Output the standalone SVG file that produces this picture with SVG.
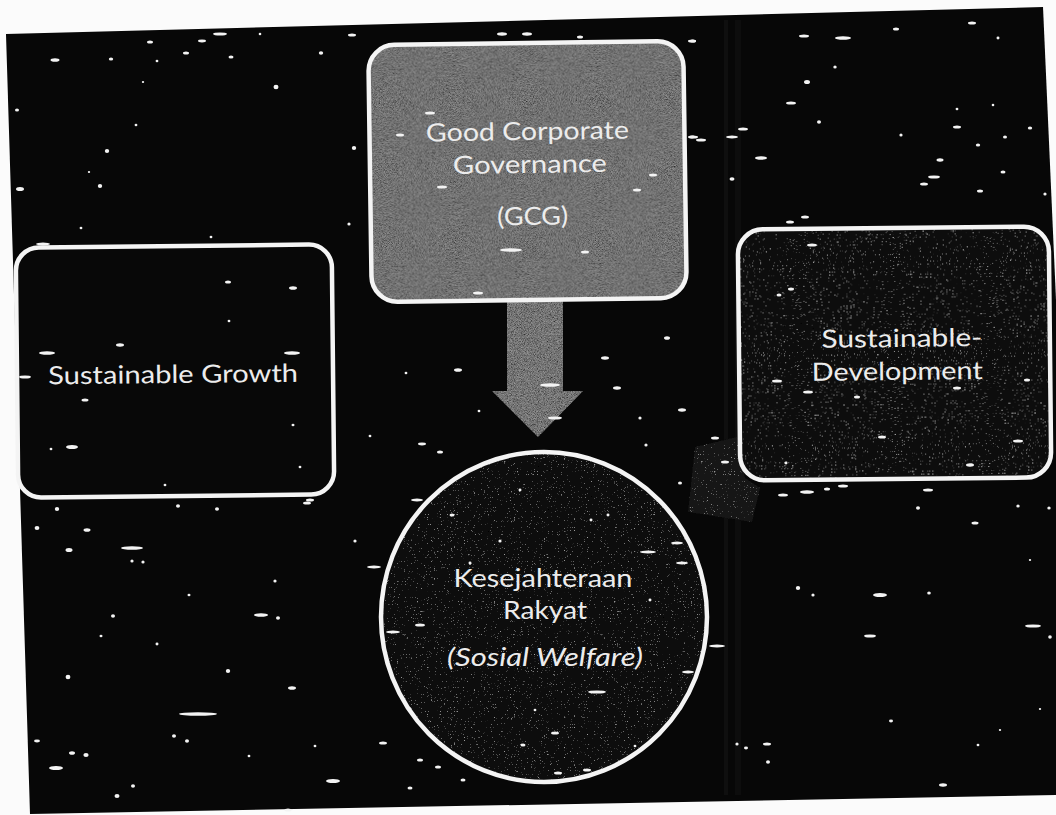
<svg xmlns="http://www.w3.org/2000/svg" width="1056" height="815" viewBox="0 0 1056 815">
  <defs>
    <style>
      .lbl { font-family: Lato, "Open Sans", "Liberation Sans", sans-serif; font-size: 25px; fill: #ececec; text-anchor: middle; }
      .it { font-style: italic; }
      .frame { fill: none; stroke: #f4f4f4; stroke-width: 4.5; }
      .sp { fill: #f3f3f3; }
      .band { fill: #1b1b1b; }
    </style>
    <!-- mid-grey photocopy grain: grey noise laid over the fill -->
    <filter id="grain" x="0" y="0" width="100%" height="100%">
      <feTurbulence type="fractalNoise" baseFrequency="1.3" numOctaves="1" seed="7" result="n"/>
      <feColorMatrix in="n" type="matrix" values="1.4 0 0 0 -0.28  1.4 0 0 0 -0.28  1.4 0 0 0 -0.28  0 0 0 0 0.35" result="g"/>
      <feComposite in="g" in2="SourceGraphic" operator="in" result="gn"/>
      <feMerge><feMergeNode in="SourceGraphic"/><feMergeNode in="gn"/></feMerge>
    </filter>
    <!-- sparse dim flecks for the dark shapes -->
    <filter id="grainLight" x="0" y="0" width="100%" height="100%">
      <feTurbulence type="fractalNoise" baseFrequency="1.3" numOctaves="1" seed="11" result="n"/>
      <feColorMatrix in="n" type="matrix" values="0 0 0 0 0.75  0 0 0 0 0.75  0 0 0 0 0.75  3 0 0 0 -2.02" result="w"/>
      <feComposite in="w" in2="SourceGraphic" operator="in" result="wn"/>
      <feMerge><feMergeNode in="SourceGraphic"/><feMergeNode in="wn"/></feMerge>
    </filter>
  </defs>

  <!-- paper -->
  <rect x="0" y="0" width="1056" height="815" fill="#fbfbfb"/>
  <!-- dark slide area, slightly skewed -->
  <polygon points="6,34 1043,7 1056,300 1056,795 30,814" fill="#070707"/>
  <rect class="band" x="724" y="20" width="4" height="775" opacity="0.45"/>
  <rect class="band" x="735" y="20" width="6" height="775" opacity="0.35"/>

  <!-- connectors -->
  <g id="connectors">
    <polygon id="arrow-gcg" points="507,300 563,300 563,391 583,391 538,437 492,391 507,391" fill="#3c3c3c" filter="url(#grain)"/>
    <polygon id="arrow-sd" points="695,447 737,437 745,478 760,488 752,522 688,512" fill="#151515" filter="url(#grainLight)"/>
  </g>

  <g id="node-gcg" transform="rotate(-0.8 527 171)">
    <rect x="370" y="43" width="315" height="257" rx="26" fill="#363636" filter="url(#grain)"/>
    <rect class="frame" x="370" y="43" width="315" height="257" rx="26"/>
    <text class="lbl" x="528" y="140" textLength="203" lengthAdjust="spacingAndGlyphs">Good Corporate</text>
    <text class="lbl" x="530" y="173" textLength="154" lengthAdjust="spacingAndGlyphs">Governance</text>
    <text class="lbl" x="532" y="225" textLength="71" lengthAdjust="spacingAndGlyphs">(GCG)</text>
  </g>

  <g id="node-growth" transform="rotate(-0.6 175 371)">
    <rect x="17" y="246" width="316" height="250" rx="23" fill="#080808"/>
    <rect class="frame" x="17" y="246" width="316" height="250" rx="23"/>
    <text class="lbl" x="173" y="383" textLength="250" lengthAdjust="spacingAndGlyphs">Sustainable Growth</text>
  </g>

  <g id="node-development" transform="rotate(-0.6 894 353)">
    <rect x="739" y="228" width="311" height="251" rx="25" fill="#0f0f0f" filter="url(#grainLight)"/>
    <rect class="frame" x="739" y="228" width="311" height="251" rx="25"/>
    <text class="lbl" x="902" y="347" textLength="161" lengthAdjust="spacingAndGlyphs">Sustainable-</text>
    <text class="lbl" x="897" y="380" textLength="171" lengthAdjust="spacingAndGlyphs">Development</text>
  </g>

  <g id="node-welfare">
    <ellipse cx="544" cy="617" rx="163" ry="165" fill="#101010" filter="url(#grainLight)"/>
    <ellipse class="frame" cx="544" cy="617" rx="163" ry="165"/>
    <text class="lbl" x="543" y="587" textLength="179" lengthAdjust="spacingAndGlyphs">Kesejahteraan</text>
    <text class="lbl" x="545" y="619" textLength="84" lengthAdjust="spacingAndGlyphs">Rakyat</text>
    <text class="lbl it" x="545" y="666" textLength="196" lengthAdjust="spacingAndGlyphs">(Sosial Welfare)</text>
  </g>

  <!-- scanner specks -->
  <g id="specks">
    <ellipse class="sp" cx="220" cy="34" rx="7" ry="1.6"/>
    <ellipse class="sp" cx="352" cy="35" rx="4" ry="1.5"/>
    <ellipse class="sp" cx="150" cy="42" rx="3" ry="1.6"/>
    <ellipse class="sp" cx="202" cy="41" rx="4" ry="1.4"/>
    <ellipse class="sp" cx="186" cy="53" rx="3" ry="1.5"/>
    <ellipse class="sp" cx="231" cy="57" rx="2.5" ry="1.5"/>
    <ellipse class="sp" cx="55" cy="60" rx="4.5" ry="1.8"/>
    <ellipse class="sp" cx="111" cy="59" rx="2.2" ry="1.6"/>
    <ellipse class="sp" cx="321" cy="53" rx="2.2" ry="1.8"/>
    <ellipse class="sp" cx="157" cy="61" rx="1.4" ry="1.2"/>
    <ellipse class="sp" cx="276" cy="87" rx="2.5" ry="2.2"/>
    <ellipse class="sp" cx="17" cy="110" rx="2" ry="1.6"/>
    <ellipse class="sp" cx="136" cy="125" rx="1.4" ry="1.2"/>
    <ellipse class="sp" cx="107" cy="151" rx="2.2" ry="2"/>
    <ellipse class="sp" cx="354" cy="148" rx="2.2" ry="2"/>
    <ellipse class="sp" cx="100" cy="186" rx="2.2" ry="2"/>
    <ellipse class="sp" cx="20" cy="189" rx="4" ry="2"/>
    <ellipse class="sp" cx="81" cy="228" rx="1.4" ry="1.3"/>
    <ellipse class="sp" cx="349" cy="224" rx="1.6" ry="1.5"/>
    <ellipse class="sp" cx="211" cy="237" rx="1.4" ry="1.3"/>
    <ellipse class="sp" cx="43" cy="244" rx="7" ry="1.5"/>
    <ellipse class="sp" cx="143" cy="82" rx="1.2" ry="1.1"/>
    <ellipse class="sp" cx="89" cy="172" rx="1.2" ry="1.1"/>
    <ellipse class="sp" cx="260" cy="34" rx="1.3" ry="1.2"/>

    <ellipse class="sp" cx="692" cy="41" rx="4" ry="1.5"/>
    <ellipse class="sp" cx="804" cy="36" rx="5" ry="1.5"/>
    <ellipse class="sp" cx="843" cy="38" rx="8" ry="1.7"/>
    <ellipse class="sp" cx="896" cy="29" rx="3" ry="1.5"/>
    <ellipse class="sp" cx="972" cy="23" rx="4" ry="1.5"/>
    <ellipse class="sp" cx="998" cy="38" rx="1.5" ry="1.4"/>
    <ellipse class="sp" cx="835" cy="67" rx="1.7" ry="1.5"/>
    <ellipse class="sp" cx="807" cy="82" rx="3" ry="2"/>
    <ellipse class="sp" cx="791" cy="103" rx="5" ry="1.6"/>
    <ellipse class="sp" cx="743" cy="129" rx="5" ry="1.6"/>
    <ellipse class="sp" cx="732" cy="137" rx="6" ry="1.5"/>
    <ellipse class="sp" cx="701" cy="140" rx="5" ry="1.5"/>
    <ellipse class="sp" cx="692" cy="137" rx="3" ry="1.4"/>
    <ellipse class="sp" cx="761" cy="158" rx="6" ry="1.7"/>
    <ellipse class="sp" cx="732" cy="179" rx="2.5" ry="1.8"/>
    <ellipse class="sp" cx="957" cy="127" rx="4" ry="1.5"/>
    <ellipse class="sp" cx="940" cy="160" rx="3.5" ry="1.7"/>
    <ellipse class="sp" cx="934" cy="177" rx="6" ry="1.6"/>
    <ellipse class="sp" cx="924" cy="184" rx="4" ry="1.6"/>
    <ellipse class="sp" cx="978" cy="145" rx="2.2" ry="1.5"/>
    <ellipse class="sp" cx="1003" cy="172" rx="2.5" ry="1.6"/>
    <ellipse class="sp" cx="980" cy="191" rx="3" ry="1.5"/>
    <ellipse class="sp" cx="1005" cy="137" rx="2" ry="1.5"/>
    <ellipse class="sp" cx="1030" cy="128" rx="2.2" ry="1.5"/>
    <ellipse class="sp" cx="805" cy="217" rx="4" ry="1.6"/>
    <ellipse class="sp" cx="790" cy="222" rx="4" ry="1.6"/>
    <ellipse class="sp" cx="819" cy="122" rx="2" ry="1.8"/>
    <ellipse class="sp" cx="901" cy="135" rx="1.6" ry="1.5"/>
    <ellipse class="sp" cx="957" cy="109" rx="1.4" ry="1.3"/>
    <ellipse class="sp" cx="993" cy="105" rx="1.3" ry="1.2"/>
    <ellipse class="sp" cx="1045" cy="194" rx="1.6" ry="1.5"/>

    <ellipse class="sp" cx="502" cy="34" rx="5" ry="1.7"/>
    <ellipse class="sp" cx="527" cy="34" rx="5" ry="1.7"/>
    <ellipse class="sp" cx="580" cy="37" rx="3" ry="1.5"/>
    <ellipse class="sp" cx="693" cy="41" rx="3" ry="1.5"/>
    <ellipse class="sp" cx="430" cy="113" rx="5" ry="1.5"/>
    <ellipse class="sp" cx="400" cy="135" rx="4" ry="1.5"/>
    <ellipse class="sp" cx="442" cy="187" rx="5" ry="1.5"/>
    <ellipse class="sp" cx="511" cy="250" rx="11" ry="1.8"/>
    <ellipse class="sp" cx="585" cy="252" rx="4" ry="1.5"/>
    <ellipse class="sp" cx="637" cy="190" rx="4" ry="1.5"/>
    <ellipse class="sp" cx="653" cy="175" rx="4" ry="1.5"/>
    <ellipse class="sp" cx="478" cy="293" rx="5" ry="1.5"/>
    <ellipse class="sp" cx="693" cy="137" rx="5" ry="1.5"/>
    <ellipse class="sp" cx="458" cy="370" rx="4" ry="1.8"/>
    <ellipse class="sp" cx="667" cy="338" rx="3" ry="1.8"/>
    <ellipse class="sp" cx="605" cy="358" rx="4" ry="1.7"/>
    <ellipse class="sp" cx="617" cy="388" rx="4" ry="1.7"/>
    <ellipse class="sp" cx="682" cy="410" rx="4" ry="1.7"/>
    <ellipse class="sp" cx="550" cy="385" rx="10" ry="1.7"/>
    <ellipse class="sp" cx="555" cy="418" rx="7" ry="1.6"/>
    <ellipse class="sp" cx="406" cy="373" rx="1.4" ry="1.3"/>
    <ellipse class="sp" cx="479" cy="411" rx="1.4" ry="1.3"/>
    <ellipse class="sp" cx="640" cy="418" rx="1.6" ry="1.5"/>
    <ellipse class="sp" cx="646" cy="445" rx="1.6" ry="1.5"/>
    <ellipse class="sp" cx="370" cy="436" rx="1.4" ry="1.3"/>

    <ellipse class="sp" cx="228" cy="282" rx="3" ry="1.6"/>
    <ellipse class="sp" cx="293" cy="288" rx="4" ry="1.8"/>
    <ellipse class="sp" cx="120" cy="345" rx="4" ry="1.7"/>
    <ellipse class="sp" cx="47" cy="353" rx="8" ry="1.8"/>
    <ellipse class="sp" cx="292" cy="353" rx="8" ry="1.7"/>
    <ellipse class="sp" cx="25" cy="377" rx="6" ry="1.6"/>
    <ellipse class="sp" cx="85" cy="400" rx="3.5" ry="1.6"/>
    <ellipse class="sp" cx="72" cy="447" rx="6" ry="2"/>
    <ellipse class="sp" cx="310" cy="500" rx="4" ry="1.5"/>
    <ellipse class="sp" cx="229" cy="321" rx="1.4" ry="1.3"/>
    <ellipse class="sp" cx="293" cy="425" rx="1.5" ry="1.3"/>
    <ellipse class="sp" cx="51" cy="449" rx="1.4" ry="1.3"/>
    <ellipse class="sp" cx="300" cy="467" rx="1.4" ry="1.3"/>
    <ellipse class="sp" cx="165" cy="485" rx="1.4" ry="1.3"/>

    <ellipse class="sp" cx="812" cy="245" rx="5" ry="1.6"/>
    <ellipse class="sp" cx="791" cy="289" rx="3" ry="1.5"/>
    <ellipse class="sp" cx="779" cy="295" rx="2.5" ry="1.5"/>
    <ellipse class="sp" cx="777" cy="381" rx="5" ry="1.5"/>
    <ellipse class="sp" cx="808" cy="392" rx="5" ry="1.6"/>
    <ellipse class="sp" cx="857" cy="397" rx="3" ry="1.5"/>
    <ellipse class="sp" cx="957" cy="388" rx="4" ry="1.5"/>
    <ellipse class="sp" cx="1027" cy="380" rx="3" ry="1.5"/>
    <ellipse class="sp" cx="882" cy="437" rx="4" ry="1.6"/>
    <ellipse class="sp" cx="1018" cy="441" rx="5" ry="1.5"/>
    <ellipse class="sp" cx="970" cy="465" rx="4" ry="1.7"/>
    <ellipse class="sp" cx="715" cy="438" rx="4" ry="1.5"/>
    <ellipse class="sp" cx="725" cy="462" rx="4" ry="1.5"/>
    <ellipse class="sp" cx="786" cy="463" rx="1.5" ry="1.4"/>
    <ellipse class="sp" cx="783" cy="495" rx="5" ry="1.6"/>
    <ellipse class="sp" cx="807" cy="492" rx="7" ry="1.7"/>
    <ellipse class="sp" cx="827" cy="489" rx="3" ry="1.5"/>
    <ellipse class="sp" cx="843" cy="486" rx="5" ry="1.5"/>
    <ellipse class="sp" cx="928" cy="490" rx="5" ry="1.5"/>
    <ellipse class="sp" cx="975" cy="523" rx="3.5" ry="1.5"/>
    <ellipse class="sp" cx="1049" cy="508" rx="1.7" ry="1.6"/>
    <ellipse class="sp" cx="918" cy="508" rx="2" ry="1.8"/>
    <ellipse class="sp" cx="1018" cy="506" rx="1.7" ry="1.5"/>
    <ellipse class="sp" cx="798" cy="588" rx="2.2" ry="2"/>
    <ellipse class="sp" cx="813" cy="595" rx="1.6" ry="1.5"/>
    <ellipse class="sp" cx="880" cy="595" rx="7" ry="2"/>
    <ellipse class="sp" cx="929" cy="593" rx="1.8" ry="1.6"/>
    <ellipse class="sp" cx="870" cy="636" rx="6" ry="1.6"/>
    <ellipse class="sp" cx="1033" cy="626" rx="8" ry="1.6"/>
    <ellipse class="sp" cx="1050" cy="637" rx="1.8" ry="1.7"/>
    <ellipse class="sp" cx="717" cy="646" rx="8" ry="1.5"/>
    <ellipse class="sp" cx="891" cy="721" rx="2" ry="1.4"/>
    <ellipse class="sp" cx="767" cy="744" rx="4" ry="1.5"/>
    <ellipse class="sp" cx="737" cy="744" rx="1.6" ry="1.5"/>
    <ellipse class="sp" cx="746" cy="748" rx="2" ry="1.4"/>
    <ellipse class="sp" cx="768" cy="762" rx="2" ry="1.7"/>
    <ellipse class="sp" cx="943" cy="785" rx="4" ry="1.7"/>
    <ellipse class="sp" cx="1030" cy="560" rx="1.2" ry="1.1"/>
    <ellipse class="sp" cx="1000" cy="730" rx="1.2" ry="1.1"/>
    <ellipse class="sp" cx="978" cy="745" rx="1.4" ry="1.2"/>
    <ellipse class="sp" cx="1040" cy="709" rx="1.2" ry="1.1"/>

    <ellipse class="sp" cx="422" cy="444" rx="4" ry="1.4"/>
    <ellipse class="sp" cx="440" cy="452" rx="3" ry="1.6"/>
    <ellipse class="sp" cx="417" cy="500" rx="6" ry="1.5"/>
    <ellipse class="sp" cx="452" cy="515" rx="2.5" ry="1.6"/>
    <ellipse class="sp" cx="680" cy="483" rx="2" ry="1.6"/>
    <ellipse class="sp" cx="648" cy="552" rx="8" ry="1.5"/>
    <ellipse class="sp" cx="682" cy="563" rx="6" ry="1.5"/>
    <ellipse class="sp" cx="420" cy="625" rx="5" ry="1.6"/>
    <ellipse class="sp" cx="393" cy="632" rx="7" ry="1.5"/>
    <ellipse class="sp" cx="374" cy="567" rx="7" ry="1.4"/>
    <ellipse class="sp" cx="677" cy="543" rx="6" ry="1.5"/>
    <ellipse class="sp" cx="688" cy="672" rx="6" ry="1.5"/>
    <ellipse class="sp" cx="597" cy="692" rx="9" ry="1.6"/>
    <ellipse class="sp" cx="555" cy="733" rx="4" ry="1.6"/>
    <ellipse class="sp" cx="523" cy="745" rx="2.5" ry="1.6"/>
    <ellipse class="sp" cx="383" cy="743" rx="4" ry="1.6"/>
    <ellipse class="sp" cx="558" cy="773" rx="4" ry="1.5"/>
    <ellipse class="sp" cx="587" cy="770" rx="4" ry="1.5"/>
    <ellipse class="sp" cx="420" cy="760" rx="3" ry="1.6"/>
    <ellipse class="sp" cx="438" cy="767" rx="3" ry="1.6"/>
    <ellipse class="sp" cx="410" cy="788" rx="2.5" ry="1.5"/>
    <ellipse class="sp" cx="463" cy="780" rx="2.5" ry="1.5"/>
    <ellipse class="sp" cx="500" cy="541" rx="1.6" ry="1.5"/>
    <ellipse class="sp" cx="470" cy="563" rx="1.5" ry="1.4"/>
    <ellipse class="sp" cx="650" cy="600" rx="1.5" ry="1.4"/>
    <ellipse class="sp" cx="520" cy="490" rx="1.5" ry="1.4"/>
    <ellipse class="sp" cx="608" cy="515" rx="1.5" ry="1.4"/>
    <ellipse class="sp" cx="591" cy="520" rx="1.5" ry="1.4"/>
    <ellipse class="sp" cx="635" cy="746" rx="1.4" ry="1.3"/>
    <ellipse class="sp" cx="535" cy="710" rx="1.4" ry="1.3"/>

    <ellipse class="sp" cx="57" cy="509" rx="2.2" ry="2"/>
    <ellipse class="sp" cx="178" cy="506" rx="2" ry="1.7"/>
    <ellipse class="sp" cx="217" cy="509" rx="2" ry="1.8"/>
    <ellipse class="sp" cx="307" cy="503" rx="4" ry="1.6"/>
    <ellipse class="sp" cx="37" cy="528" rx="2.4" ry="2"/>
    <ellipse class="sp" cx="87" cy="530" rx="3.5" ry="1.8"/>
    <ellipse class="sp" cx="69" cy="550" rx="3.5" ry="2"/>
    <ellipse class="sp" cx="132" cy="548" rx="11" ry="1.7"/>
    <ellipse class="sp" cx="113" cy="616" rx="2" ry="1.8"/>
    <ellipse class="sp" cx="261" cy="615" rx="7" ry="1.8"/>
    <ellipse class="sp" cx="278" cy="618" rx="2" ry="1.8"/>
    <ellipse class="sp" cx="68" cy="677" rx="2.4" ry="2.2"/>
    <ellipse class="sp" cx="228" cy="671" rx="2.2" ry="2"/>
    <ellipse class="sp" cx="292" cy="688" rx="4" ry="1.8"/>
    <ellipse class="sp" cx="198" cy="714" rx="19" ry="1.7"/>
    <ellipse class="sp" cx="37" cy="741" rx="3" ry="1.4"/>
    <ellipse class="sp" cx="72" cy="753" rx="3" ry="1.8"/>
    <ellipse class="sp" cx="86" cy="755" rx="2.6" ry="2"/>
    <ellipse class="sp" cx="56" cy="768" rx="7" ry="2"/>
    <ellipse class="sp" cx="333" cy="781" rx="7" ry="2"/>
    <ellipse class="sp" cx="117" cy="796" rx="2.5" ry="2"/>
    <ellipse class="sp" cx="288" cy="810" rx="3.5" ry="1.6"/>
    <ellipse class="sp" cx="355" cy="541" rx="1.6" ry="1.5"/>
    <ellipse class="sp" cx="132" cy="561" rx="1.6" ry="1.5"/>
    <ellipse class="sp" cx="143" cy="562" rx="1.6" ry="1.5"/>
    <ellipse class="sp" cx="157" cy="644" rx="1.5" ry="1.4"/>
    <ellipse class="sp" cx="189" cy="595" rx="1.5" ry="1.3"/>
    <ellipse class="sp" cx="101" cy="636" rx="1.5" ry="1.3"/>
    <ellipse class="sp" cx="174" cy="736" rx="2" ry="1.8"/>
    <ellipse class="sp" cx="187" cy="741" rx="2" ry="1.8"/>
    <ellipse class="sp" cx="133" cy="786" rx="2" ry="1.8"/>
    <ellipse class="sp" cx="249" cy="756" rx="1.4" ry="1.3"/>
    <ellipse class="sp" cx="315" cy="746" rx="1.4" ry="1.3"/>
    <ellipse class="sp" cx="275" cy="581" rx="1.6" ry="1.5"/>
  </g>
</svg>
